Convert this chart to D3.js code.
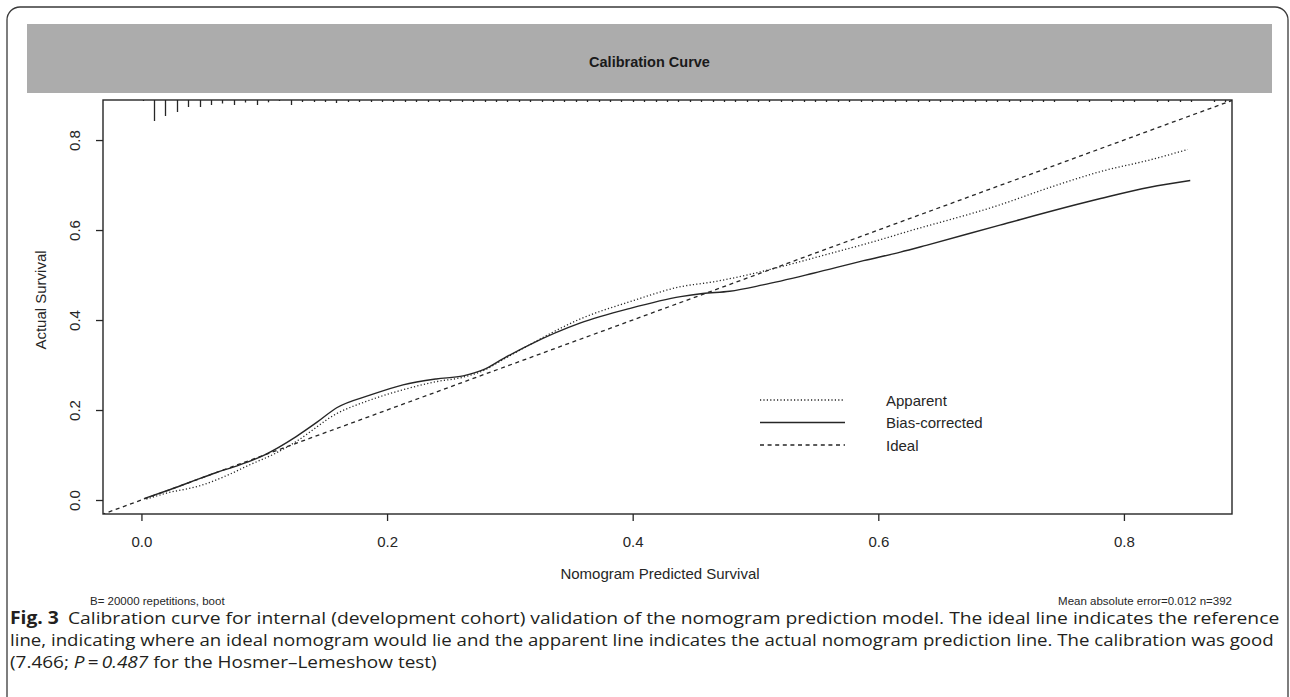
<!DOCTYPE html>
<html>
<head>
<meta charset="utf-8">
<script src="https://cdn.jsdelivr.net/npm/d3@7/dist/d3.min.js"></script>
<style>
  html, body { margin: 0; padding: 0; background: #fff; }
  svg { display: block; }
</style>
</head>
<body>
<svg id="chart" width="1290" height="697"></svg>
<script>
// ---------------- data ----------------
const xTicks = [0.0, 0.2, 0.4, 0.6, 0.8];
const yTicks = [0.0, 0.2, 0.4, 0.6, 0.8];

const apparentX = [0.004, 0.02, 0.048, 0.07, 0.088, 0.11, 0.126, 0.159, 0.186, 0.213, 0.24, 0.262, 0.278, 0.295, 0.316, 0.357, 0.398, 0.439, 0.466, 0.493, 0.52, 0.561, 0.601, 0.618, 0.699, 0.74, 0.781, 0.82, 0.852];
const apparentY = [0.002, 0.015, 0.032, 0.055, 0.078, 0.105, 0.13, 0.192, 0.222, 0.245, 0.263, 0.273, 0.287, 0.313, 0.345, 0.402, 0.441, 0.474, 0.485, 0.50, 0.518, 0.548, 0.578, 0.592, 0.656, 0.695, 0.73, 0.755, 0.779];

const biasX = [0.002, 0.02, 0.04, 0.06, 0.08, 0.10, 0.126, 0.143, 0.159, 0.186, 0.213, 0.24, 0.262, 0.278, 0.295, 0.316, 0.357, 0.398, 0.439, 0.457, 0.479, 0.506, 0.547, 0.588, 0.618, 0.639, 0.699, 0.781, 0.821, 0.854];
const biasY = [0.003, 0.02, 0.04, 0.06, 0.078, 0.10, 0.141, 0.173, 0.205, 0.233, 0.256, 0.269, 0.276, 0.289, 0.315, 0.345, 0.393, 0.426, 0.452, 0.459, 0.464, 0.478, 0.504, 0.532, 0.551, 0.566, 0.611, 0.670, 0.695, 0.710];

const idealX = [-0.05, 0.95];
const idealY = [-0.05, 0.95];

// distribution of predicted values (spike histogram along the top)
const rugStart = 0.001;
const rugWidth = 0.00928;
const rugFreq = [1, 21, 16, 12, 7, 7, 5, 3.5, 5, 2.5, 5, 2.3, 1, 5, 2, 2, 2, 3, 2, 2,
                 2, 2, 2, 2, 2, 2, 2, 2, 2, 2,
                 2, 2, 2, 2, 2, 2, 2, 2, 2, 2,
                 2, 2, 2, 2, 2, 2, 2, 2, 2, 2,
                 2, 2, 2, 2, 2, 2, 2, 2, 2, 2,
                 2, 2, 2, 2, 2, 2, 2, 2, 2, 2,
                 2, 2, 2, 2, 2, 2, 2, 2, 2, 2,
                 2, 0, 2, 2, 0, 2, 2, 2, 0, 2, 2, 2, 2, 0, 2, 2];

const legendLabels = ["Apparent", "Bias-corrected", "Ideal"];
const legendDash = ["1.2,2.2", null, "4,3.6"];

const titleText = "Calibration Curve";
const xLabel = "Nomogram Predicted Survival";
const yLabel = "Actual Survival";
const leftNote = "B= 20000 repetitions, boot";
const rightNote = "Mean absolute error=0.012 n=392";

// ---------------- drawing ----------------
const svg = d3.select("#chart");
const ink = "#262626";
const rFont = "'Liberation Sans', Arial, sans-serif";

const L = 103, R = 1232, T = 100, B = 514;
const x = d3.scaleLinear().domain([-0.0313, 0.888]).range([L, R]);
const y = d3.scaleLinear().domain([-0.0311, 0.889]).range([B, T]);

// outer frame
svg.append("path")
  .attr("d", "M7,697 V20 A13,13 0 0 1 20,7 H1275 A13,13 0 0 1 1288,20 V697")
  .attr("fill", "none").attr("stroke", "#3a3a3a").attr("stroke-width", 1.3);

// grey strip with title
svg.append("rect").attr("x", 27).attr("y", 24).attr("width", 1245).attr("height", 69)
  .attr("fill", "#acacac");
svg.append("text").attr("x", 649.5).attr("y", 67).attr("text-anchor", "middle")
  .attr("font-family", rFont).attr("font-weight", "bold").attr("font-size", 14.5)
  .attr("fill", "#1a1a1a").text(titleText);

// clip
svg.append("clipPath").attr("id", "clip").append("rect")
  .attr("x", L).attr("y", T).attr("width", R - L).attr("height", B - T);

const plot = svg.append("g").attr("clip-path", "url(#clip)");

const line = d3.line().x(d => x(d[0])).y(d => y(d[1])).curve(d3.curveMonotoneX);

plot.append("path").datum(d3.zip(idealX, idealY))
  .attr("d", d3.line().x(d => x(d[0])).y(d => y(d[1])))
  .attr("fill", "none").attr("stroke", ink).attr("stroke-width", 1.3)
  .attr("stroke-dasharray", legendDash[2]);

plot.append("path").datum(d3.zip(apparentX, apparentY))
  .attr("d", line)
  .attr("fill", "none").attr("stroke", ink).attr("stroke-width", 1.3)
  .attr("stroke-dasharray", legendDash[0]);

plot.append("path").datum(d3.zip(biasX, biasY))
  .attr("d", line)
  .attr("fill", "none").attr("stroke", ink).attr("stroke-width", 1.4);

// spikes along top
const hScale = d3.scaleLinear().domain([0, d3.max(rugFreq)]).range([0, 21]);
svg.append("g").selectAll("line")
  .data(rugFreq.map((f, i) => ({ v: rugStart + i * rugWidth, f })).filter(d => d.f > 0))
  .join("line")
  .attr("x1", d => Math.round(x(d.v)) + 0.5).attr("x2", d => Math.round(x(d.v)) + 0.5)
  .attr("y1", T).attr("y2", d => T + hScale(d.f))
  .attr("stroke", ink).attr("stroke-width", 1.3);

// box
svg.append("rect").attr("x", L).attr("y", T).attr("width", R - L).attr("height", B - T)
  .attr("fill", "none").attr("stroke", ink).attr("stroke-width", 1.4);

// x axis
const xAxis = d3.axisBottom(x).tickValues(xTicks).tickFormat(d3.format(".1f")).tickSize(7).tickPadding(15);
const gx = svg.append("g").attr("transform", `translate(0,${B})`).call(xAxis);
gx.select(".domain").remove();
gx.selectAll("line").attr("stroke", ink).attr("stroke-width", 1.3);
gx.selectAll("text").attr("font-family", rFont).attr("font-size", 15).attr("fill", ink);

// y axis
const yAxis = d3.axisLeft(y).tickValues(yTicks).tickFormat(d3.format(".1f")).tickSize(7).tickPadding(0);
const gy = svg.append("g").attr("transform", `translate(${L},0)`).call(yAxis);
gy.select(".domain").remove();
gy.selectAll("line").attr("stroke", ink).attr("stroke-width", 1.3);
gy.selectAll("text")
  .attr("x", null).attr("dy", null)
  .attr("text-anchor", "middle")
  .attr("transform", "translate(-23,0) rotate(-90)")
  .attr("font-family", rFont).attr("font-size", 15).attr("fill", ink);

// axis titles
svg.append("text").attr("x", 660).attr("y", 579).attr("text-anchor", "middle")
  .attr("font-family", rFont).attr("font-size", 15).attr("fill", ink).text(xLabel);
svg.append("text").attr("transform", "translate(46,300) rotate(-90)").attr("text-anchor", "middle")
  .attr("font-family", rFont).attr("font-size", 15).attr("fill", ink).text(yLabel);

// notes
svg.append("text").attr("x", 90).attr("y", 605)
  .attr("font-family", rFont).attr("font-size", 11.5).attr("fill", ink).text(leftNote);
svg.append("text").attr("x", 1232).attr("y", 605).attr("text-anchor", "end")
  .attr("font-family", rFont).attr("font-size", 11.5).attr("fill", ink).text(rightNote);

// legend
const lg = svg.append("g");
legendLabels.forEach((lab, i) => {
  const yy = 400 + i * 22.5;
  lg.append("line").attr("x1", 760).attr("x2", 845).attr("y1", yy).attr("y2", yy)
    .attr("stroke", ink).attr("stroke-width", 1.3)
    .attr("stroke-dasharray", legendDash[i]);
  lg.append("text").attr("x", 886).attr("y", yy + 5.5)
    .attr("font-family", rFont).attr("font-size", 15).attr("fill", ink).text(lab);
});

// caption
const capFont = "'Open Sans', 'Noto Sans', sans-serif";
const cap = svg.append("g").attr("font-family", capFont).attr("font-size", 17).attr("fill", "#231f20");
const l1 = cap.append("text").attr("x", 0).attr("y", 624);
l1.append("tspan").attr("font-weight", "bold").text("Fig. 3");
l1.append("tspan").attr("dx", 8).text("Calibration curve for internal (development cohort) validation of the nomogram prediction model. The ideal line indicates the reference");
const l2 = cap.append("text").attr("x", 0).attr("y", 646)
  .text("line, indicating where an ideal nomogram would lie and the apparent line indicates the actual nomogram prediction line. The calibration was good");
const l3 = cap.append("text").attr("x", 0).attr("y", 668);
l3.append("tspan").text("(7.466; ");
l3.append("tspan").attr("font-style", "italic").text("P");
l3.append("tspan").text("\u2009=\u2009");
l3.append("tspan").attr("font-style", "italic").text("0.487");
l3.append("tspan").text(" for the Hosmer\u2013Lemeshow test)");

const k1 = (1271 - 10) / l1.node().getComputedTextLength();
const k2 = (1275 - 10) / l2.node().getComputedTextLength();
const k3 = (k1 + k2) / 2;
l1.attr("transform", `translate(10,0) scale(${k1},1)`);
l2.attr("transform", `translate(10,0) scale(${k2},1)`);
l3.attr("transform", `translate(10,0) scale(${k3},1)`);
</script>
</body>
</html>
